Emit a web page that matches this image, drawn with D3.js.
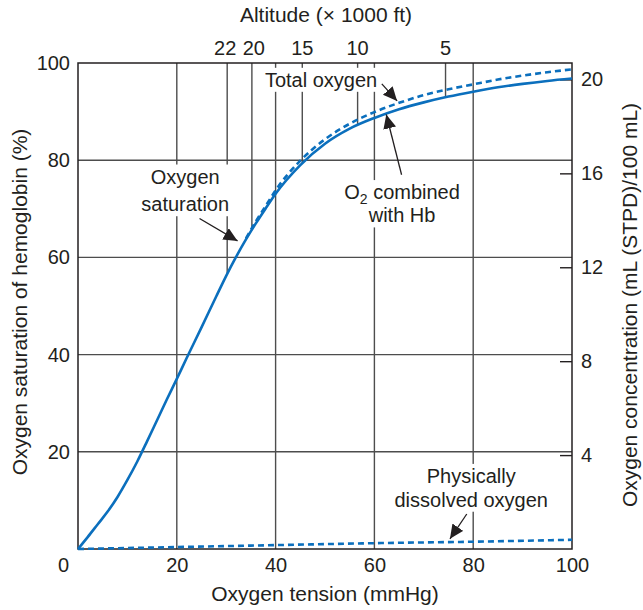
<!DOCTYPE html>
<html>
<head>
<meta charset="utf-8">
<script src="https://cdn.jsdelivr.net/npm/d3@7"></script>
<style>
  body { margin: 0; background: #fff; }
  svg text { font-family: "Liberation Sans", Arial, Helvetica, sans-serif; fill: #231f20; }
</style>
</head>
<body>
<div id="chart"></div>
<script>
const WIDTH = 643;
const HEIGHT = 610;

// oxygen tension (mmHg) and % saturation of Hb
const po2 = [0, 2, 4, 6, 8, 10, 12, 14, 16, 18, 20, 22, 25, 28, 30, 32, 34, 36, 38, 40,
             45, 50, 55, 60, 65, 70, 75, 80, 85, 90, 95, 100];
const hbSat = [0, 2.5, 5.1, 7.7, 10.7, 14.2, 18, 22.2, 26.5, 30.8, 35, 39.3, 45.6, 52, 56.2, 60.1, 63.7, 67, 70.1, 73.1,
               79, 83.4, 86.5, 88.7, 90.5, 91.9, 93.1, 94.1, 95, 95.7, 96.3, 96.8];

// total oxygen (dashed), only drawn where it separates from the Hb curve
const totalPo2 = [34, 36, 38, 40, 45, 50, 55, 60, 65, 70, 75, 80, 85, 90, 95, 100];
const totalO2 = [63.9, 67.4, 70.6, 73.8, 79.9, 84.3, 87.5, 89.9, 91.8, 93.4, 94.6, 95.6, 96.6, 97.4, 98.1, 98.7];

// physically dissolved oxygen (dashed, near the bottom)
const dissolvedPo2 = [0, 20, 40, 60, 80, 100];
const dissolved = [0, 0.4, 0.8, 1.2, 1.5, 1.9];

// altitude scale on top (x 1000 ft) and the PO2 it falls on
const altitudeFt = [22, 20, 15, 10, 5];
const altitudePo2 = [30.2, 35.2, 45.4, 56.6, 74.4];

const xTicks = [0, 20, 40, 60, 80, 100];
const yTicks = [20, 40, 60, 80, 100];
const rightTicks = [4, 8, 12, 16, 20];

const BLUE = "#0b6fbd";
const GRID = "#4d4d4d";

const svg = d3.select("#chart").append("svg")
    .attr("width", WIDTH)
    .attr("height", HEIGHT);

const x = d3.scaleLinear().domain([0, 100]).range([78, 572]);
const y = d3.scaleLinear().domain([0, 100]).range([549, 63]);
const yRight = d3.scaleLinear().domain([0, 20.7]).range([549, 63]);

// arrow head
svg.append("defs").append("marker")
    .attr("id", "head")
    .attr("markerUnits", "userSpaceOnUse")
    .attr("markerWidth", 16).attr("markerHeight", 14)
    .attr("refX", 14).attr("refY", 6.5)
    .attr("orient", "auto")
  .append("path")
    .attr("d", "M0,0 L14,6.5 L0,13 Z")
    .attr("fill", "#231f20");

// grid
const grid = svg.append("g");
grid.selectAll(".vg")
  .data(xTicks.slice(1, -1))
  .join("line")
    .attr("x1", d => x(d)).attr("x2", d => x(d))
    .attr("y1", y(100)).attr("y2", y(0))
    .attr("stroke", GRID).attr("stroke-width", 1.4);
grid.selectAll(".hg")
  .data(yTicks.slice(0, -1))
  .join("line")
    .attr("x1", x(0)).attr("x2", x(100))
    .attr("y1", d => y(d)).attr("y2", d => y(d))
    .attr("stroke", GRID).attr("stroke-width", 1.4);

// altitude lines: from the top down to the Hb curve
function satAt(p) {
  const i = d3.bisectLeft(po2, p);
  if (i <= 0) return hbSat[0];
  const t = (p - po2[i - 1]) / (po2[i] - po2[i - 1]);
  return hbSat[i - 1] + t * (hbSat[i] - hbSat[i - 1]);
}
grid.selectAll(".alt")
  .data(altitudePo2)
  .join("line")
    .attr("x1", d => x(d)).attr("x2", d => x(d))
    .attr("y1", y(100)).attr("y2", d => y(satAt(d)))
    .attr("stroke", GRID).attr("stroke-width", 1.4);

// right axis ticks (inward)
const rightAxis = svg.append("g")
    .attr("transform", `translate(${x(100)},0)`)
    .call(d3.axisRight(yRight).tickValues(rightTicks).tickSize(-12).tickPadding(9));
rightAxis.select(".domain").remove();
rightAxis.selectAll("line").attr("stroke", "#231f20").attr("stroke-width", 1.4);
rightAxis.selectAll("text").attr("font-size", 20).attr("fill", "#231f20");

// frame
svg.append("rect")
    .attr("x", x(0)).attr("y", y(100))
    .attr("width", x(100) - x(0)).attr("height", y(0) - y(100))
    .attr("fill", "none").attr("stroke", "#231f20").attr("stroke-width", 1.5);

// annotations (positions in data units)
const notes = [
  { lines: ["Total oxygen"], cx: 49.2, base: [95.1], from: [61.5, 95.7], to: [64.6, 92.2] },
  { lines: ["Oxygen", "saturation"], cx: 21.7, base: [75.2, 69.5], from: [24.6, 68], to: [32.3, 63.4] },
  { lines: ["O2 combined", "with Hb"], cx: 65.6, base: [72, 67.2], from: [65.5, 77], to: [62.4, 89.4] },
  { lines: ["Physically", "dissolved oxygen"], cx: 79.6, base: [13.6, 8.7], from: [78.7, 7.2], to: [75.3, 2.1] }
];

const bgLayer = svg.append("g");
const curveLayer = svg.append("g");
const noteLayer = svg.append("g");

notes.forEach(n => {
  const g = noteLayer.append("g");
  n.lines.forEach((s, i) => {
    const t = g.append("text")
        .attr("x", x(n.cx))
        .attr("y", y(n.base[i]))
        .attr("text-anchor", "middle")
        .attr("font-size", 20);
    if (s.startsWith("O2")) {
      t.append("tspan").text("O");
      t.append("tspan").text("2").attr("font-size", 14).attr("dy", 5);
      t.append("tspan").text(" combined").attr("dy", -5);
    } else {
      t.text(s);
    }
  });
  const b = g.node().getBBox();
  bgLayer.append("rect")
      .attr("x", b.x - 3).attr("y", b.y - 1)
      .attr("width", b.width + 6).attr("height", b.height + 2)
      .attr("fill", "#fff");
  g.append("line")
      .attr("x1", x(n.from[0])).attr("y1", y(n.from[1]))
      .attr("x2", x(n.to[0])).attr("y2", y(n.to[1]))
      .attr("stroke", "#231f20").attr("stroke-width", 1.3)
      .attr("marker-end", "url(#head)");
});

// curves
const line = d3.line()
    .x(d => x(d[0]))
    .y(d => y(d[1]))
    .curve(d3.curveMonotoneX);

curveLayer.append("path")
    .attr("d", line(d3.zip(dissolvedPo2, dissolved)))
    .attr("fill", "none").attr("stroke", BLUE)
    .attr("stroke-width", 2.6).attr("stroke-dasharray", "6,4");

curveLayer.append("path")
    .attr("d", line(d3.zip(totalPo2, totalO2)))
    .attr("fill", "none").attr("stroke", BLUE)
    .attr("stroke-width", 2.6).attr("stroke-dasharray", "6,4");

curveLayer.append("path")
    .attr("d", line(d3.zip(po2, hbSat)))
    .attr("fill", "none").attr("stroke", BLUE)
    .attr("stroke-width", 2.6);

// left axis labels
const leftAxis = svg.append("g")
    .attr("transform", `translate(${x(0)},0)`)
    .call(d3.axisLeft(y).tickValues(yTicks).tickSize(0).tickPadding(8));
leftAxis.select(".domain").remove();
leftAxis.selectAll("text").attr("font-size", 20).attr("fill", "#231f20");

// bottom axis labels
const bottomAxis = svg.append("g")
    .attr("transform", `translate(0,${y(0)})`)
    .call(d3.axisBottom(x).tickValues(xTicks).tickSize(0).tickPadding(9));
bottomAxis.select(".domain").remove();
bottomAxis.selectAll("text").attr("font-size", 20).attr("fill", "#231f20")
    .attr("dx", d => d === 0 ? -15 : 0);

// altitude labels on top
svg.append("g").selectAll("text")
  .data(altitudeFt)
  .join("text")
    .attr("x", (d, i) => x(altitudePo2[i]))
    .attr("dx", d => d === 22 ? -2 : d === 20 ? 2 : 0)
    .attr("y", 55)
    .attr("text-anchor", "middle")
    .attr("font-size", 20)
    .text(d => d);

// titles
svg.append("text")
    .attr("x", 326).attr("y", 22)
    .attr("text-anchor", "middle").attr("font-size", 21)
    .text("Altitude (\u00d7 1000 ft)");

svg.append("text")
    .attr("x", 325).attr("y", 601)
    .attr("text-anchor", "middle").attr("font-size", 21)
    .text("Oxygen tension (mmHg)");

svg.append("text")
    .attr("transform", "translate(27,302) rotate(-90)")
    .attr("text-anchor", "middle").attr("font-size", 21)
    .text("Oxygen saturation of hemoglobin (%)");

svg.append("text")
    .attr("transform", "translate(637,305) rotate(-90)")
    .attr("text-anchor", "middle").attr("font-size", 21)
    .text("Oxygen concentration (mL (STPD)/100 mL)");
</script>
</body>
</html>
